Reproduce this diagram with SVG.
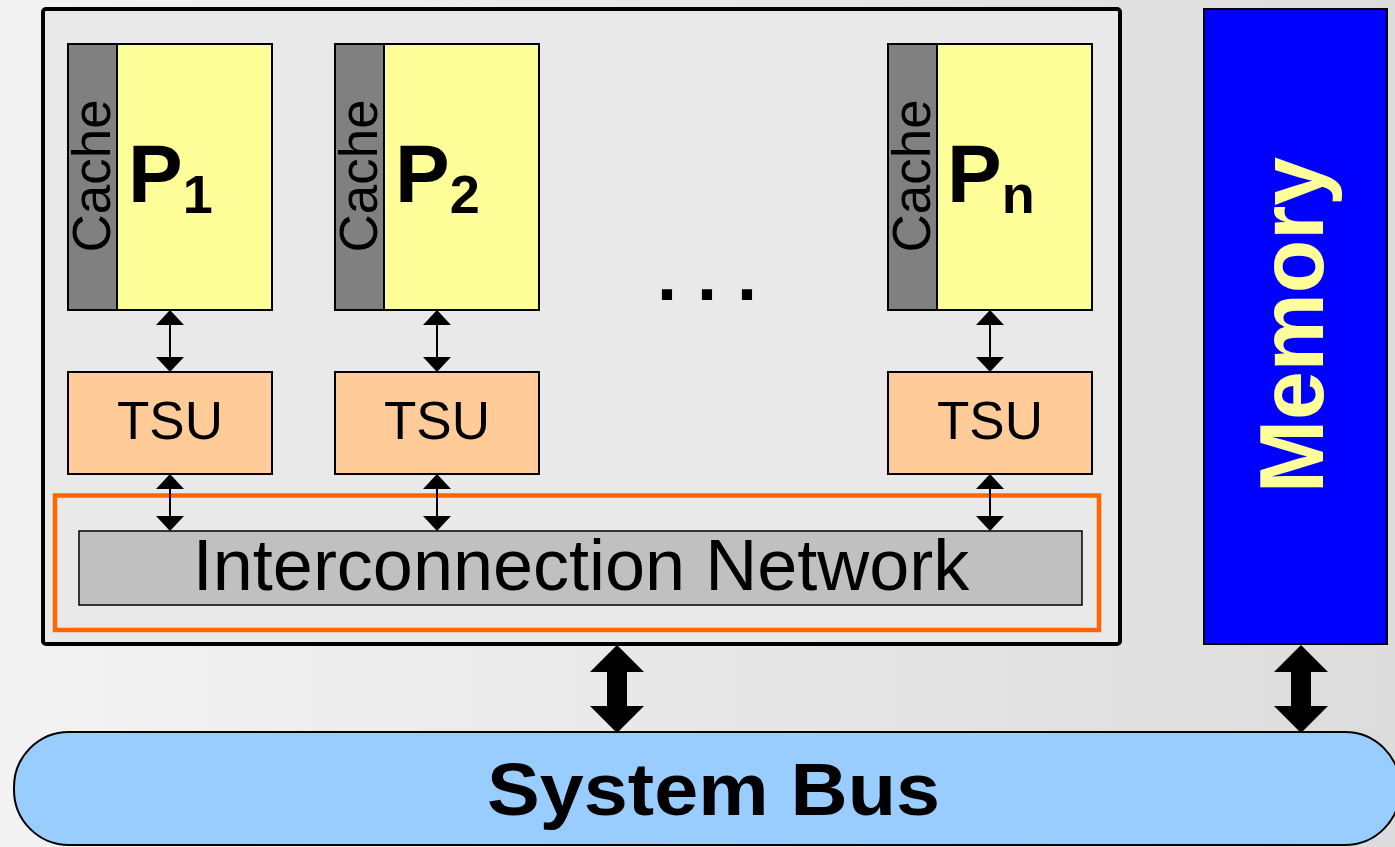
<svg xmlns="http://www.w3.org/2000/svg" width="1395" height="847" viewBox="0 0 1395 847">
<defs>
<linearGradient id="bg" x1="0" y1="0" x2="1" y2="0">
<stop offset="0" stop-color="#f3f3f3"/>
<stop offset="1" stop-color="#dcdcdc"/>
</linearGradient>
<marker id="ah" viewBox="0 0 15 28" refX="14" refY="14" markerWidth="15" markerHeight="28" markerUnits="userSpaceOnUse" orient="auto-start-reverse">
<path d="M0,0 L15,14 L0,28 Z" fill="#000"/>
</marker>
<path id="bigArrow" d="M0,0 L27,27 L10,27 L10,61 L27,61 L0,88 L-27,61 L-10,61 L-10,27 L-27,27 Z"/>
</defs>
<style>
.proc{fill:#ffff99;stroke:#000;stroke-width:2}
.cache{fill:#808080;stroke:#000;stroke-width:2}
.tsu{fill:#ffcc99;stroke:#000;stroke-width:2}
.lbl{font-family:"Liberation Sans",Arial,sans-serif;fill:#000}
.bold{font-weight:bold}
.conn{stroke:#000;stroke-width:2;fill:none}
</style>
<rect x="0" y="0" width="1395" height="847" fill="url(#bg)"/>

<g id="chip">
<rect x="43" y="9" width="1077" height="635" rx="3" fill="#e9e9e9" stroke="#000" stroke-width="4"/>
</g>

<g id="p1">
<rect class="proc" x="68" y="44" width="204" height="266"/>
<rect class="cache" x="68" y="44" width="49" height="266"/>
<text class="lbl" font-size="53" text-anchor="middle" transform="translate(110,176) rotate(-90)">Cache</text>
<text class="lbl bold" x="128" y="202" font-size="82">P<tspan font-size="54" dy="11">1</tspan></text>
</g>
<g id="p2">
<rect class="proc" x="335" y="44" width="204" height="266"/>
<rect class="cache" x="335" y="44" width="49" height="266"/>
<text class="lbl" font-size="53" text-anchor="middle" transform="translate(377,176) rotate(-90)">Cache</text>
<text class="lbl bold" x="395" y="202" font-size="82">P<tspan font-size="54" dy="11">2</tspan></text>
</g>
<g id="pn">
<rect class="proc" x="888" y="44" width="204" height="266"/>
<rect class="cache" x="888" y="44" width="49" height="266"/>
<text class="lbl" font-size="53" text-anchor="middle" transform="translate(930,176) rotate(-90)">Cache</text>
<text class="lbl bold" x="947" y="202" font-size="82">P<tspan font-size="54" dy="11">n</tspan></text>
</g>
<g id="dots">
<text class="lbl bold" x="657" y="300" font-size="72">. . .</text>
</g>

<g id="tsu1">
<rect class="tsu" x="68" y="372" width="204" height="102"/>
<text class="lbl" x="170" y="439" font-size="53" text-anchor="middle">TSU</text>
</g>
<g id="tsu2">
<rect class="tsu" x="335" y="372" width="204" height="102"/>
<text class="lbl" x="437" y="439" font-size="53" text-anchor="middle">TSU</text>
</g>
<g id="tsun">
<rect class="tsu" x="888" y="372" width="204" height="102"/>
<text class="lbl" x="990" y="439" font-size="53" text-anchor="middle">TSU</text>
</g>

<g id="network-frame">
<rect x="55" y="495.5" width="1044" height="134.5" fill="none" stroke="#ff6600" stroke-width="4.5"/>
</g>
<g id="network">
<rect x="79" y="531" width="1003" height="74" fill="#c0c0c0" stroke="#000" stroke-width="1.5"/>
<text class="lbl" x="581" y="590" font-size="72" text-anchor="middle">Interconnection Network</text>
</g>

<g id="memory">
<rect x="1204" y="9" width="183" height="635" fill="#0000ff" stroke="#000" stroke-width="2"/>
<text class="lbl bold" font-size="90" text-anchor="middle" fill="#ffff99" style="fill:#ffff99" textLength="336" lengthAdjust="spacingAndGlyphs" transform="translate(1323,325) rotate(-90)">Memory</text>
</g>

<g id="bus">
<rect x="14" y="732" width="1386" height="113" rx="55" ry="55" fill="#99ccff" stroke="#000" stroke-width="2"/>
<text class="lbl bold" x="713.5" y="815" font-size="74" text-anchor="middle" textLength="453" lengthAdjust="spacingAndGlyphs">System Bus</text>
</g>

<g id="connectors">
<line class="conn" x1="170" y1="311" x2="170" y2="371" marker-start="url(#ah)" marker-end="url(#ah)"/>
<line class="conn" x1="437" y1="311" x2="437" y2="371" marker-start="url(#ah)" marker-end="url(#ah)"/>
<line class="conn" x1="990" y1="311" x2="990" y2="371" marker-start="url(#ah)" marker-end="url(#ah)"/>
<line class="conn" x1="170" y1="475" x2="170" y2="530" marker-start="url(#ah)" marker-end="url(#ah)"/>
<line class="conn" x1="437" y1="475" x2="437" y2="530" marker-start="url(#ah)" marker-end="url(#ah)"/>
<line class="conn" x1="990" y1="475" x2="990" y2="530" marker-start="url(#ah)" marker-end="url(#ah)"/>
<use href="#bigArrow" x="617" y="645" fill="#000"/>
<use href="#bigArrow" x="1301" y="645" fill="#000"/>
</g>
</svg>
